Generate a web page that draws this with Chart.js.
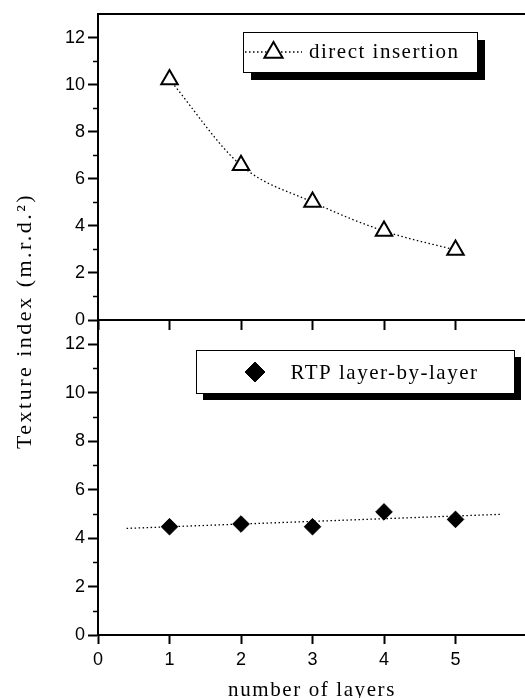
<!DOCTYPE html>
<html>
<head>
<meta charset="utf-8">
<script src="https://cdn.jsdelivr.net/npm/chart.js@4.4.1/dist/chart.umd.min.js"></script>
<style>
    html, body { margin: 0; padding: 0; background: #fff; overflow: hidden; }
    #wrap { position: relative; width: 540px; height: 698px; }
    #wrap canvas { position: absolute; left: 0; top: 0; }
</style>
</head>
<body>
<div id="wrap">
    <canvas id="topChart" width="540" height="698"></canvas>
    <canvas id="bottomChart" width="540" height="698"></canvas>
</div>
<script>
// values
const layers = [1, 2, 3, 4, 5];
const directInsertion = [10.22, 6.57, 5.01, 3.78, 2.97];
const rtpLayerByLayer = [4.47, 4.58, 4.47, 5.08, 4.77];
const rtpFitX = [0.4, 5.62];
const rtpFitY = [4.40, 4.98];
const xTickLabels = ["0", "1", "2", "3", "4", "5"];
const yMinorTicks = [1, 3, 5, 7, 9, 11];

const SANS = '"Liberation Sans", Arial, sans-serif';
const SERIF = '"Liberation Serif", "Times New Roman", serif';
const PLOT_RIGHT = 527; // frame runs just past the right edge of the picture

Chart.defaults.font.family = SANS;
Chart.defaults.color = "#000";

function drawSymbol(ctx, style, x, y, r, fill, lineWidth) {
    ctx.beginPath();
    if (style === "triangle") {
        ctx.moveTo(x, y - r);
        ctx.lineTo(x + 0.866 * r, y + 0.5 * r);
        ctx.lineTo(x - 0.866 * r, y + 0.5 * r);
    } else {
        ctx.moveTo(x, y - r);
        ctx.lineTo(x + r, y);
        ctx.lineTo(x, y + r);
        ctx.lineTo(x - r, y);
    }
    ctx.closePath();
    ctx.fillStyle = fill;
    ctx.fill();
    ctx.lineWidth = lineWidth;
    ctx.strokeStyle = "#000";
    ctx.stroke();
}

function spacedText(ctx, text, x, y, spacing, align) {
    ctx.letterSpacing = spacing + "px";
    ctx.textAlign = align;
    ctx.fillText(text, x, y);
    ctx.letterSpacing = "0px";
}

// short unlabeled ticks between the labelled ones
const minorTicks = {
    id: "minorTicks",
    afterDraw(chart) {
        const ctx = chart.ctx;
        const y = chart.scales.y;
        const left = chart.chartArea.left;
        ctx.save();
        ctx.strokeStyle = "#000";
        ctx.lineWidth = 1.5;
        yMinorTicks.forEach(v => {
            const py = Math.round(y.getPixelForValue(v)) + 0.5;
            ctx.beginPath();
            ctx.moveTo(left - 5, py);
            ctx.lineTo(left, py);
            ctx.stroke();
        });
        ctx.restore();
    }
};

// Origin style legend box with a drop shadow
const boxLegend = {
    id: "boxLegend",
    afterDraw(chart, args, opts) {
        if (!opts || !opts.text) return;
        const ctx = chart.ctx;
        const a = chart.chartArea;
        const bx = a.left + opts.left, by = a.top + opts.top;
        ctx.save();
        ctx.fillStyle = "#000";
        ctx.fillRect(bx + opts.shadow, by + opts.shadow, opts.width, opts.height);
        ctx.fillStyle = "#fff";
        ctx.fillRect(bx, by, opts.width, opts.height);
        ctx.strokeStyle = "#000";
        ctx.lineWidth = 1;
        ctx.strokeRect(bx + 0.5, by + 0.5, opts.width, opts.height);
        if (opts.line) {
            ctx.setLineDash([1.5, 2.5]);
            ctx.lineWidth = 1.3;
            ctx.beginPath();
            ctx.moveTo(a.left + opts.line[0], a.top + opts.line[2]);
            ctx.lineTo(a.left + opts.line[1], a.top + opts.line[2]);
            ctx.stroke();
            ctx.setLineDash([]);
        }
        drawSymbol(ctx, opts.symbol, a.left + opts.symX, a.top + opts.symY, opts.symR, opts.symFill, opts.symWidth);
        ctx.fillStyle = "#000";
        ctx.font = "21px " + SERIF;
        ctx.textBaseline = "alphabetic";
        spacedText(ctx, opts.text, a.left + opts.textX, a.top + opts.baseline, 1.5, "left");
        ctx.restore();
    }
};

// axis titles that span both panels
const axisTitles = {
    id: "axisTitles",
    afterDraw(chart) {
        const ctx = chart.ctx;
        ctx.save();
        ctx.fillStyle = "#000";
        ctx.textBaseline = "middle";
        ctx.font = "22px " + SERIF;
        ctx.translate(25, 321);
        ctx.rotate(-Math.PI / 2);
        spacedText(ctx, "Texture index (m.r.d.²)", 0, 0, 2.5, "center");
        ctx.restore();

        ctx.save();
        ctx.fillStyle = "#000";
        ctx.textBaseline = "alphabetic";
        ctx.font = "21px " + SERIF;
        spacedText(ctx, "number of layers", 312, 696, 1.6, "center");
        ctx.restore();
    }
};

function yAxis() {
    return {
        min: 0,
        max: 13,
        ticks: { stepSize: 2, includeBounds: false, padding: 3, font: { size: 18 }, color: "#000" },
        grid: { drawOnChartArea: false, tickLength: 10, tickColor: "#000", tickWidth: 2 },
        border: { color: "#000", width: 2 },
        afterFit: s => { s.width = 98; }
    };
}

function fixX(h) {
    return s => {
        s.height = h;
        s.paddingLeft = 0;
        s.paddingRight = 0;
    };
}

// nudge the right padding until the plot frame ends where the picture has it
function pinRight(chart) {
    for (let i = 0; i < 3; i++) {
        const diff = chart.chartArea.right - PLOT_RIGHT;
        if (Math.abs(diff) < 0.5) break;
        chart.options.layout.padding.right += diff;
        chart.update();
    }
}

const topChart = new Chart(document.getElementById("topChart"), {
    type: "scatter",
    data: {
        datasets: [{
            label: "direct insertion",
            data: layers.map((x, i) => ({ x: x, y: directInsertion[i] })),
            showLine: true,
            borderColor: "#000",
            borderWidth: 1.3,
            borderDash: [1.5, 2.5],
            cubicInterpolationMode: "monotone",
            pointStyle: "triangle",
            pointRadius: 9.5,
            pointBorderWidth: 2,
            pointBorderColor: "#000",
            pointBackgroundColor: "#fff"
        }]
    },
    options: {
        responsive: false,
        animation: false,
        events: [],
        layout: { padding: { left: 0, right: 13, top: 14, bottom: 698 - 320 - 10 } },
        plugins: {
            legend: { display: false },
            tooltip: { enabled: false },
            boxLegend: {
                text: "direct insertion",
                left: 145, top: 18, width: 234, height: 40, shadow: 8,
                line: [147, 204, 38],
                symbol: "triangle", symX: 175.5, symY: 38.5, symR: 10.5, symFill: "#fff", symWidth: 2,
                textX: 211, baseline: 44
            }
        },
        scales: {
            x: {
                type: "linear",
                position: "bottom",
                min: 0,
                max: 6,
                ticks: { stepSize: 1, display: false, padding: 0 },
                grid: { drawOnChartArea: false, tickLength: 10, tickColor: "#000", tickWidth: 2 },
                border: { color: "#000", width: 2 },
                afterFit: fixX(10)
            },
            xTop: {
                type: "linear",
                position: "top",
                min: 0,
                max: 6,
                ticks: { display: false, padding: 0 },
                grid: { drawOnChartArea: false, drawTicks: false },
                border: { color: "#000", width: 2 },
                afterFit: fixX(0)
            },
            y: yAxis()
        }
    },
    plugins: [minorTicks, boxLegend]
});

const bottomChart = new Chart(document.getElementById("bottomChart"), {
    type: "scatter",
    data: {
        datasets: [{
            label: "RTP layer-by-layer",
            data: layers.map((x, i) => ({ x: x, y: rtpLayerByLayer[i] })),
            pointStyle: "rectRot",
            pointRadius: 8.3,
            pointBorderWidth: 1,
            pointBorderColor: "#000",
            pointBackgroundColor: "#000"
        }, {
            label: "fit",
            data: rtpFitX.map((x, i) => ({ x: x, y: rtpFitY[i] })),
            showLine: true,
            borderColor: "#000",
            borderWidth: 1.3,
            borderDash: [1.5, 2.5],
            pointRadius: 0,
            order: 1
        }]
    },
    options: {
        responsive: false,
        animation: false,
        events: [],
        layout: { padding: { left: 0, right: 13, top: 320, bottom: 0 } },
        plugins: {
            legend: { display: false },
            tooltip: { enabled: false },
            boxLegend: {
                text: "RTP layer-by-layer",
                left: 98, top: 30, width: 318, height: 43, shadow: 7,
                symbol: "diamond", symX: 157, symY: 52, symR: 10, symFill: "#000", symWidth: 1,
                textX: 192.5, baseline: 59
            }
        },
        scales: {
            x: {
                type: "linear",
                position: "bottom",
                min: 0,
                max: 6,
                ticks: {
                    stepSize: 1, padding: 5, maxRotation: 0, autoSkip: false,
                    font: { size: 18 }, color: "#000",
                    callback: v => xTickLabels[v] ?? ""
                },
                grid: { drawOnChartArea: false, tickLength: 9, tickColor: "#000", tickWidth: 2 },
                border: { color: "#000", width: 2 },
                afterFit: fixX(63)
            },
            y: yAxis()
        }
    },
    plugins: [minorTicks, boxLegend, axisTitles]
});

pinRight(topChart);
pinRight(bottomChart);
</script>
</body>
</html>
